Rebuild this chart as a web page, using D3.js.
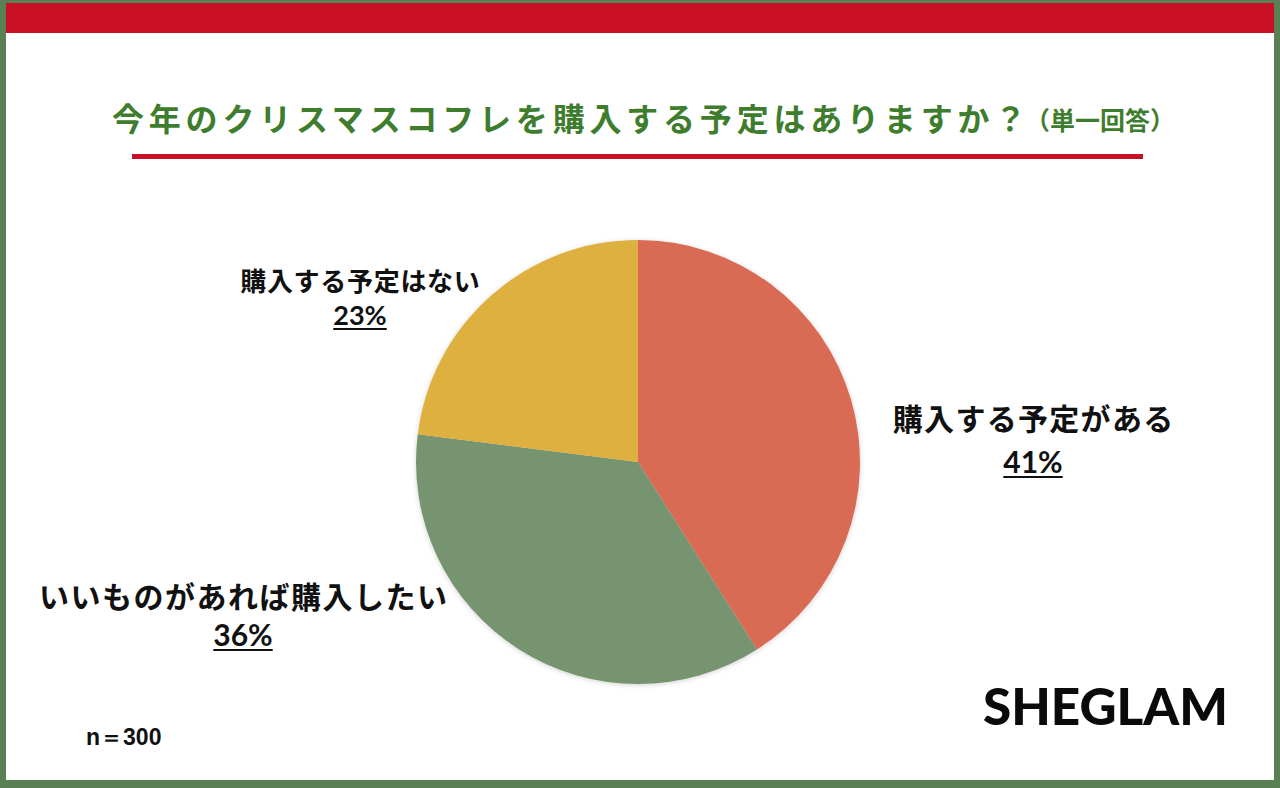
<!DOCTYPE html>
<html><head><meta charset="utf-8">
<script src="https://cdn.jsdelivr.net/npm/d3@7"></script>
<style>html,body{margin:0;padding:0;background:#fff;}svg{display:block;}</style>
</head><body>
<script>
const categories = ["購入する予定がある", "いいものがあれば購入したい", "購入する予定はない"];
const values = [41, 36, 23];
const colors = ["#d96a53", "#76946f", "#ddb040"];
const title = "今年のクリスマスコフレを購入する予定はありますか？";
const subtitle = "（単一回答）";
const sampleNote = "n＝300";
const brand = "SHEGLAM";

const W = 1280, H = 788;
const svg = d3.select("body").append("svg").attr("width", W).attr("height", H);
const jp = "'Noto Sans CJK JP', 'Noto Sans', sans-serif";

// frame
svg.append("rect").attr("x",0).attr("y",0).attr("width",W).attr("height",H).attr("fill","#5b7f55");
svg.append("rect").attr("x",6).attr("y",3).attr("width",W-12).attr("height",H-11).attr("fill","#fff");
svg.append("rect").attr("x",6).attr("y",3).attr("width",W-12).attr("height",30).attr("fill","#c80f25");

// title
const t = svg.append("text").attr("x",112).attr("y",131)
  .attr("font-family",jp).attr("font-weight",700).attr("fill","#3f7d2e");
t.append("tspan").attr("font-size",32).attr("letter-spacing",4.8).text(title);
t.append("tspan").attr("font-size",25).attr("dx",-6).attr("dy",-1).attr("letter-spacing",0).text(subtitle);
svg.append("rect").attr("x",132).attr("y",154).attr("width",1011).attr("height",5).attr("fill","#c80f25");

// shadow filter
const defs = svg.append("defs");
const f = defs.append("filter").attr("id","sh").attr("x","-10%").attr("y","-10%").attr("width","120%").attr("height","120%");
f.append("feDropShadow").attr("dx",0).attr("dy",1).attr("stdDeviation",2.5).attr("flood-color","#000").attr("flood-opacity",0.18);

const cx = 638, cy = 462, R = 222;
const pie = d3.pie().sort(null).value(d => d.v);
const arcs = pie(categories.map((c,i)=>({c, v: values[i], col: colors[i]})));
const arc = d3.arc().innerRadius(0).outerRadius(R);
const g = svg.append("g").attr("transform",`translate(${cx},${cy})`).attr("filter","url(#sh)");
g.selectAll("path").data(arcs).join("path").attr("d",arc).attr("fill",d=>d.data.col);

// labels
const labelPos = [
  {x:1033, y:430, py:473, fs:30, pfs:30, ls:1.3},
  {x:243, y:608, py:646, fs:30, pfs:30, ls:1.5},
  {x:360, y:291, py:325, fs:26, pfs:27, ls:0.7}
];
arcs.forEach((a,i)=>{
  const p = labelPos[i];
  svg.append("text").attr("text-anchor","middle")
    .attr("font-family",jp).attr("font-weight",700).attr("fill","#111")
    .attr("x",p.x+p.ls/2).attr("y",p.y).attr("font-size",p.fs).attr("letter-spacing",p.ls).text(a.data.c);
  const pt = svg.append("text").attr("text-anchor","middle")
    .attr("font-family","Lato, 'Noto Sans', sans-serif").attr("font-weight",700).attr("fill","#111")
    .attr("x",p.x).attr("y",p.py).attr("font-size",p.pfs).text(a.data.v + "%");
  const w = pt.node().getComputedTextLength();
  svg.append("rect").attr("x",p.x - w/2).attr("y",p.py+3).attr("width",w).attr("height",2).attr("fill","#111");
});

// n note
svg.append("text").attr("x",86).attr("y",745).attr("font-family","'Liberation Sans', Arial, sans-serif").attr("font-weight",700)
  .attr("font-size",23).attr("fill","#111").text(sampleNote);

// brand
svg.append("text").attr("x",983).attr("y",725).attr("font-family","Lato, 'DejaVu Sans', sans-serif")
  .attr("font-weight",900).attr("font-size",51).attr("fill","#0a0a0a")
  .attr("textLength",245).attr("lengthAdjust","spacingAndGlyphs").text(brand);
</script>
</body></html>
